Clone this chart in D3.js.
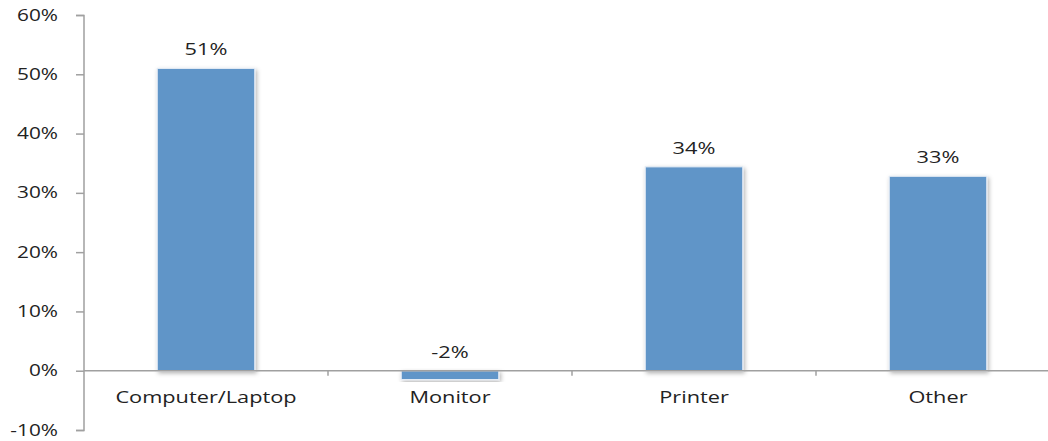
<!DOCTYPE html>
<html><head><meta charset="utf-8">
<script src="https://cdn.jsdelivr.net/npm/d3@7"></script>
<style>body{margin:0;background:#fff}svg{display:block}text{font-family:"Open Sans",sans-serif;fill:#222}</style>
</head><body><svg id="c" width="1048" height="441"></svg>
<script>
const categories = ["Computer/Laptop","Monitor","Printer","Other"];
const values = [51, -1.5, 34.4, 32.8];
const valueLabels = ["51%","-2%","34%","33%"];
const yTicks = [-10,0,10,20,30,40,50,60];

const svg = d3.select("#c");
const x = d3.scaleBand().domain(categories).range([84,1060]).paddingInner(0.6).paddingOuter(0.3);
const y = d3.scaleLinear().domain([-10,60]).range([430,15]);
const sx = 1.36;

const defs = svg.append("defs");
const f = defs.append("filter").attr("id","sh").attr("x","-20%").attr("y","-20%").attr("width","140%").attr("height","140%");
f.append("feDropShadow").attr("dx",1.5).attr("dy",2).attr("stdDeviation",2).attr("flood-color","#000").attr("flood-opacity",0.3);

// y axis
const ya = svg.append("g").attr("transform","translate(84,0)")
  .call(d3.axisLeft(y).tickValues(yTicks).tickSize(8).tickPadding(0).tickFormat(d=>d+"%"));
ya.select(".domain").attr("stroke","#a0a0a0").attr("stroke-width",1.5).attr("d","M-8,15.5H0V430.5H-8");
ya.selectAll(".tick line").attr("stroke","#a0a0a0").attr("stroke-width",1.5);
ya.selectAll(".tick text").attr("font-size",16).attr("x",0).attr("text-anchor","end")
  .attr("font-family","Open Sans").attr("fill","#222")
  .attr("transform","translate(-26,0) scale(1.3,1)");

// bars
svg.append("g").selectAll("rect").data(values).join("rect")
  .attr("x",(d,i)=>x(categories[i]))
  .attr("width",x.bandwidth())
  .attr("y",d=>y(Math.max(0,d)))
  .attr("height",d=>Math.abs(y(d)-y(0)))
  .attr("fill","#6195c8").attr("stroke","#e4ecf5").attr("stroke-width",1.2)
  .attr("filter","url(#sh)");

// x axis line
svg.append("line").attr("x1",84).attr("x2",1048).attr("y1",y(0)).attr("y2",y(0))
  .attr("stroke","#a0a0a0").attr("stroke-width",1.5);
// category boundary ticks
const gap = (x.step()-x.bandwidth())/2;
svg.append("g").selectAll("line").data(categories.slice(1)).join("line")
  .attr("x1",d=>x(d)-gap).attr("x2",d=>x(d)-gap)
  .attr("y1",y(0)).attr("y2",y(0)+5).attr("stroke","#a0a0a0").attr("stroke-width",1.5);

// category labels
svg.append("g").selectAll("text").data(categories).join("text")
  .attr("transform",d=>`translate(${x(d)+x.bandwidth()/2},${y(0)+32}) scale(${sx},1)`)
  .attr("text-anchor","middle").attr("font-size",16).text(d=>d);

// value labels
svg.append("g").selectAll("text").data(values).join("text")
  .attr("transform",(d,i)=>`translate(${x(categories[i])+x.bandwidth()/2},${y(Math.max(0,d))-13}) scale(${sx},1)`)
  .attr("text-anchor","middle").attr("font-size",16).text((d,i)=>valueLabels[i]);
</script></body></html>
